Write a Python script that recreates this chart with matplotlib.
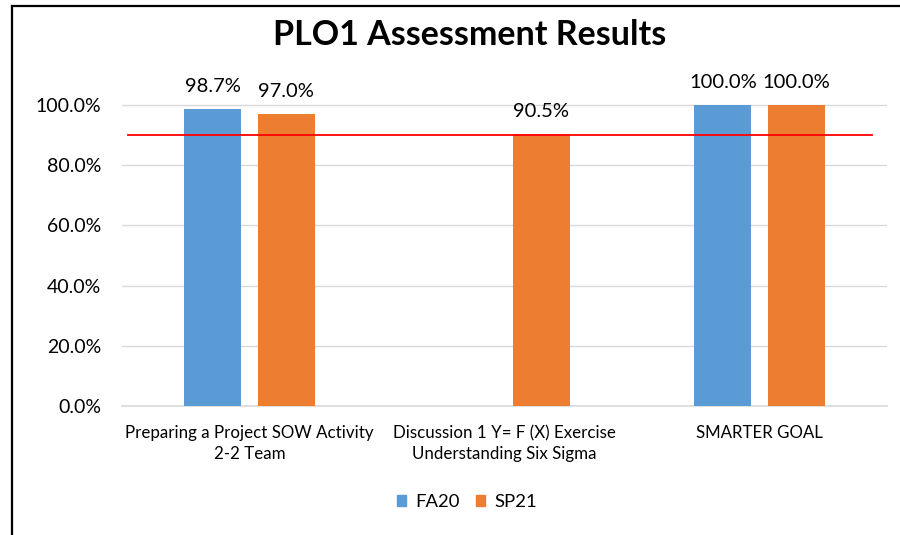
import matplotlib
matplotlib.use("Agg")
import matplotlib.pyplot as plt
import numpy as np
from matplotlib.patches import Patch
from matplotlib.lines import Line2D

plt.rcParams['font.family'] = ['Lato', 'DejaVu Sans']

categories = ["Preparing a Project SOW Activity\n2-2 Team",
              "Discussion 1 Y= F (X) Exercise\nUnderstanding Six Sigma",
              "SMARTER GOAL"]
fa20 = [0.987, np.nan, 1.0]
sp21 = [0.970, 0.905, 1.0]
target = 0.90
yticks = [0.0, 0.2, 0.4, 0.6, 0.8, 1.0]

blue = "#5B9BD5"
orange = "#ED7D31"

fig = plt.figure(figsize=(9, 5.35), dpi=100)
ax = fig.add_axes([122/900, 1-406/535, 765/900, (406-105)/535*1.2])
ax.set_xlim(-0.5, 2.5)

x = np.arange(len(categories))
w = 0.224
off = (w + 0.063) / 2
ax.bar(x - off, fa20, w, color=blue, zorder=3)
ax.bar(x + off, sp21, w, color=orange, zorder=3)

for xi, v in zip(x - off, fa20):
    if not np.isnan(v):
        ax.text(xi, v + 0.045, f"{v*100:.1f}%", ha='center', va='bottom', fontsize=14.5, color='#000000')
for xi, v in zip(x + off, sp21):
    ax.text(xi, v + 0.045, f"{v*100:.1f}%", ha='center', va='bottom', fontsize=14.5, color='#000000')

ax.axhline(target, xmin=(128-122)/765, xmax=(872-122)/765, color='#FF0000', lw=1.3, zorder=4)

ax.set_yticks(yticks)
ax.set_yticklabels([f"{t*100:.1f}%" for t in yticks], fontsize=14)
ax.set_xticks(x)
ax.set_xticklabels(categories, fontsize=12.2, linespacing=1.35)
ax.tick_params(axis='both', length=0)
ax.tick_params(axis='y', pad=15)
ax.tick_params(axis='x', pad=14)
ax.grid(axis='y', color='#D9D9D9', lw=1, zorder=0)
for s in ['top', 'right', 'left']:
    ax.spines[s].set_visible(False)
ax.spines['bottom'].set_color('#D9D9D9')
ax.spines['bottom'].set_linewidth(1.2)
ax.set_ylim(0, 1.2)

# frame (top and left edges only visible)
top_y = 1 - 5.5/535
left_x = 11.5/900
fig.add_artist(Line2D([left_x, 1.0], [top_y, top_y], transform=fig.transFigure,
                      color='black', lw=1.6, solid_capstyle='projecting'))
fig.add_artist(Line2D([left_x, left_x], [0.0, top_y], transform=fig.transFigure,
                      color='black', lw=1.6, solid_capstyle='projecting'))

fig.text(470/900, 1-35/535, "PLO1 Assessment Results", ha='center', va='center',
         fontsize=24.5, fontweight='bold')

handles = [Patch(color=blue, label='FA20'), Patch(color=orange, label='SP21')]
fig.legend(handles=handles, loc='center', bbox_to_anchor=(467/900, 1-502/535), ncol=2,
           frameon=False, fontsize=13.3, handlelength=0.5, handleheight=0.5, handletextpad=0.5,
           columnspacing=0.9)

fig.savefig("out.png", dpi=100)
